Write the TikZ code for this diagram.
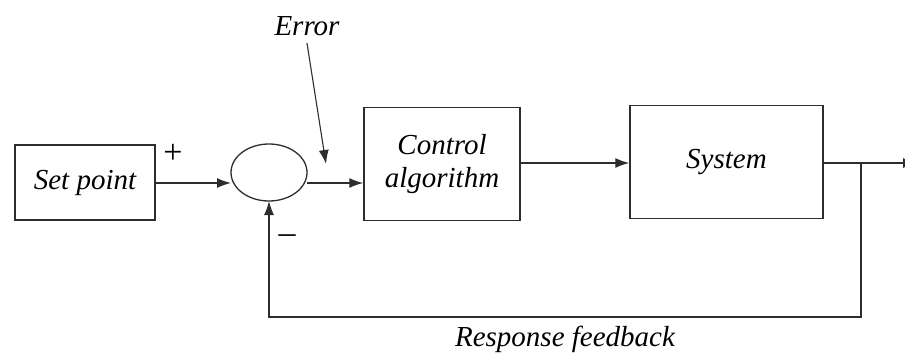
\documentclass[tikz,border=0pt]{standalone}
\usepackage{fontspec}
\setmainfont{Liberation Serif}
\usetikzlibrary{arrows.meta}
\definecolor{ln}{RGB}{45,45,45}
\tikzset{
  blk/.style={draw=ln, line width=1.4pt, minimum width=#1, minimum height=113pt, inner sep=0pt},
  lab/.style={font=\fontsize{29}{35}\selectfont\itshape, align=center, text=black},
  sgn/.style={font=\fontsize{34}{38}\selectfont, text=black},
  wire/.style={draw=ln, line width=1.3pt},
  arr/.style={wire, -{Latex[length=14pt,width=10pt]}},
}
\begin{document}
\begin{tikzpicture}[x=1pt,y=-1pt]
\useasboundingbox (0,0) rectangle (905,356);
\node[blk=140pt, minimum height=75pt, lab] (sp) at (85,182.5) {Set point};
\draw[draw=ln, line width=1.3pt] (269,172.5) ellipse (38 and 28.5);
\coordinate (sumw) at (231,183);
\coordinate (sume) at (307,183);
\coordinate (sumb) at (269,201);
\node[blk=156pt, lab] (ca) at (442,164) {Control\\[-2pt]algorithm};
\node[blk=193pt, lab] (sys) at (726.5,162) {System};
\draw[arr] (sp.east |- sumw) -- (sumw);
\draw[arr] (sume) -- (sume -| ca.west);
\draw[arr] (ca.east |- 0,163) -- (sys.west |- 0,163);
\coordinate (tap) at (861,163);
\coordinate (out) at (917,163);
\draw[arr] (sys.east |- tap) -- (out);
\draw[arr] (tap) -- (861,317) -- (269,317) -- (sumb);
\node[sgn] (plus) at (173,154) {+};
\node[sgn] (minus) at (287,239) {\textendash};
\node[lab] (err) at (307,26) {Error};
\draw[draw=ln, line width=1.1pt, -{Latex[length=14pt,width=10pt]}] (err.south) ++(0,4) -- (326,164);
\node[lab] (rf) at (565,339) {Response feedback};
\end{tikzpicture}
\end{document}
